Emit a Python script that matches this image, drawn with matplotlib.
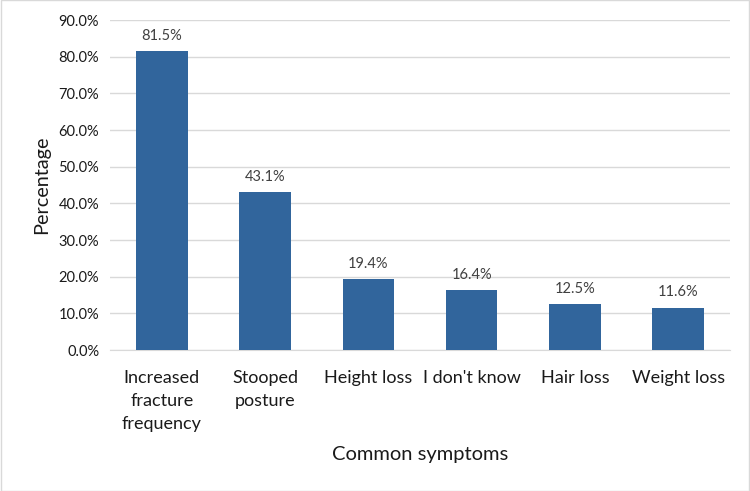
import matplotlib.pyplot as plt
from matplotlib.ticker import FuncFormatter, MultipleLocator

categories = ["Increased\nfracture\nfrequency", "Stooped\nposture", "Height loss",
              "I don't know", "Hair loss", "Weight loss"]
percentages = [81.5, 43.1, 19.4, 16.4, 12.5, 11.6]

plt.rcParams['font.family'] = ['Lato', 'DejaVu Sans']

fig = plt.figure(figsize=(7.5, 4.91), dpi=100)
ax = fig.add_axes([0.147, 0.287, 0.826, 0.672])

x = range(len(categories))
bars = ax.bar(x, percentages, width=0.5, color='#31659C', zorder=3)

for b, v in zip(bars, percentages):
    ax.text(b.get_x() + b.get_width() / 2, v + 2.2, f"{v:.1f}%", ha='center', va='bottom',
            fontsize=10.5, color='#404040')

ax.set_xlim(-0.5, len(categories) - 0.5)
ax.set_ylim(0, 90)
ax.yaxis.set_major_locator(MultipleLocator(10))
ax.yaxis.set_major_formatter(FuncFormatter(lambda v, p: f"{v:.1f}%"))
ax.grid(axis='y', color='#D9D9D9', linewidth=1, zorder=0)

ax.set_xticks(list(x))
ax.set_xticklabels(categories, fontsize=13, color='#1a1a1a', linespacing=1.55, va='top')
ax.tick_params(axis='y', labelsize=10.5, labelcolor='#1a1a1a', length=0, pad=8)
ax.tick_params(axis='x', length=0, pad=14)

for s in ['top', 'right', 'left']:
    ax.spines[s].set_visible(False)
ax.spines['bottom'].set_color('#D9D9D9')

ax.set_ylabel("Percentage", fontsize=14.3, color='#1a1a1a', labelpad=6)
ax.set_xlabel("Common symptoms", fontsize=14.5, color='#1a1a1a', labelpad=10)

fig.patches.append(plt.Rectangle((0.001, 0.001), 0.998, 0.998, transform=fig.transFigure,
                                 fill=False, edgecolor='#D9D9D9', linewidth=1))

fig.savefig("out.png", dpi=100)
